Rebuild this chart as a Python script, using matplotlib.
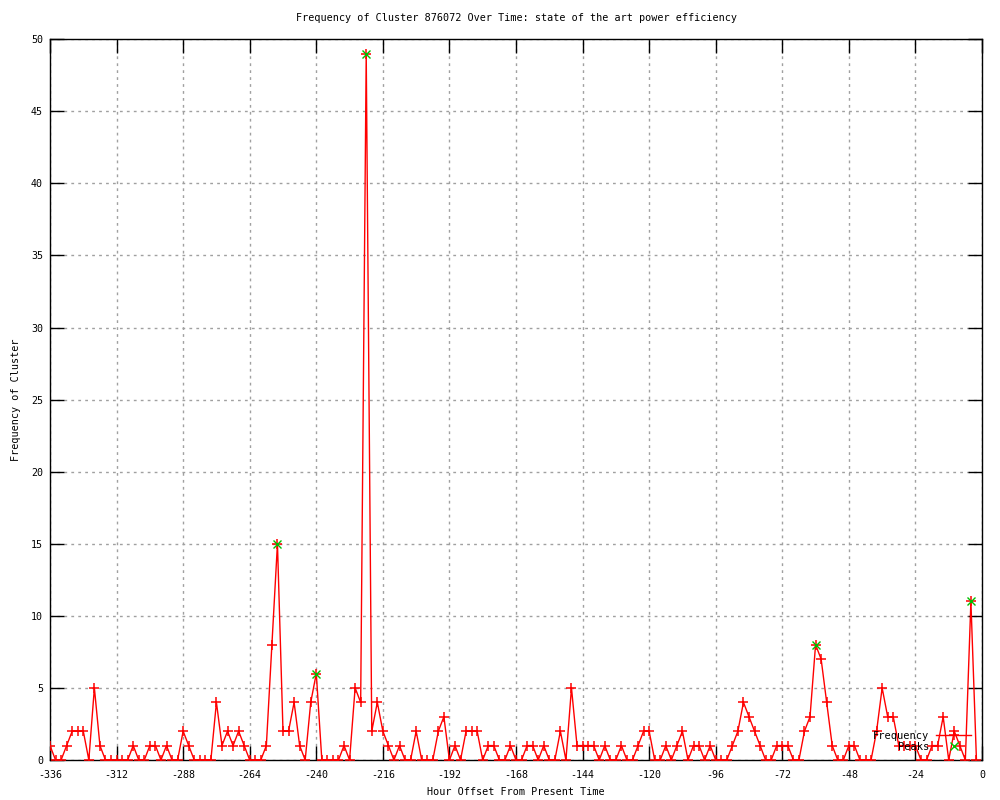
import matplotlib
matplotlib.use("Agg")
import matplotlib.pyplot as plt
import numpy as np

title = "Frequency of Cluster 876072 Over Time: state of the art power efficiency"
xlabel = "Hour Offset From Present Time"
ylabel = "Frequency of Cluster"

hours = list(range(-336, 0, 2))
frequency = [
    1, 0, 0, 1, 2, 2, 2, 0, 5, 1,
    0, 0, 0, 0, 0, 1, 0, 0, 1, 1,
    0, 1, 0, 0, 2, 1, 0, 0, 0, 0,
    4, 1, 2, 1, 2, 1, 0, 0, 0, 1,
    8, 15, 2, 2, 4, 1, 0, 4, 6, 0,
    0, 0, 0, 1, 0, 5, 4, 49, 2, 4,
    2, 1, 0, 1, 0, 0, 2, 0, 0, 0,
    2, 3, 0, 1, 0, 2, 2, 2, 0, 1,
    1, 0, 0, 1, 0, 0, 1, 1, 0, 1,
    0, 0, 2, 0, 5, 1, 1, 1, 1, 0,
    1, 0, 0, 1, 0, 0, 1, 2, 2, 0,
    0, 1, 0, 1, 2, 0, 1, 1, 0, 1,
    0, 0, 0, 1, 2, 4, 3, 2, 1, 0,
    0, 1, 1, 1, 0, 0, 2, 3, 8, 7,
    4, 1, 0, 0, 1, 1, 0, 0, 0, 2,
    5, 3, 3, 1, 1, 1, 1, 0, 0, 1,
    1, 3, 0, 2, 1, 0, 11, 0,
]
peak_hours = [-254, -240, -222, -60, -4]
peak_values = [15, 6, 49, 8, 11]

xticks = list(range(-336, 1, 24))
yticks = list(range(0, 51, 5))

mono = "DejaVu Sans Mono"
plt.rcParams["font.family"] = mono
plt.rcParams["axes.unicode_minus"] = False

fig = plt.figure(figsize=(10, 8), dpi=100)
ax = fig.add_axes([0.050, 0.050, 0.932, 0.901])

ax.plot(hours, frequency, color="#ff0000", lw=1, marker="+", ms=6.5, mew=1.1,
        label="Frequency", zorder=3)
ax.plot(peak_hours, peak_values, ls="none", color="#00c000", marker="x", ms=5.5,
        mew=1, label="Peaks", zorder=4)

ax.set_xlim(-336, 0)
ax.set_ylim(0, 50)
ax.set_xticks(xticks)
ax.set_yticks(yticks)
ax.tick_params(direction="in", top=True, right=True, length=10, width=1,
               labelsize=7.2, pad=7)
ax.tick_params(axis="y", pad=5)
ax.grid(True, color="#a0a0a0", ls=(0, (2, 3)), lw=1)
ax.set_axisbelow(True)
for s in ax.spines.values():
    s.set_linewidth(1)

ax.set_title(title, fontsize=7.3, pad=13)
ax.set_xlabel(xlabel, fontsize=7.3, labelpad=5)
ax.set_ylabel(ylabel, fontsize=7.3, labelpad=7)

leg = ax.legend(loc="lower right", bbox_to_anchor=(0.997, 0.0), frameon=False,
                markerfirst=False, fontsize=7.5, handlelength=3.3,
                handletextpad=0.7, labelspacing=0.1, borderpad=0.3)

fig.savefig("out.png", dpi=100)
